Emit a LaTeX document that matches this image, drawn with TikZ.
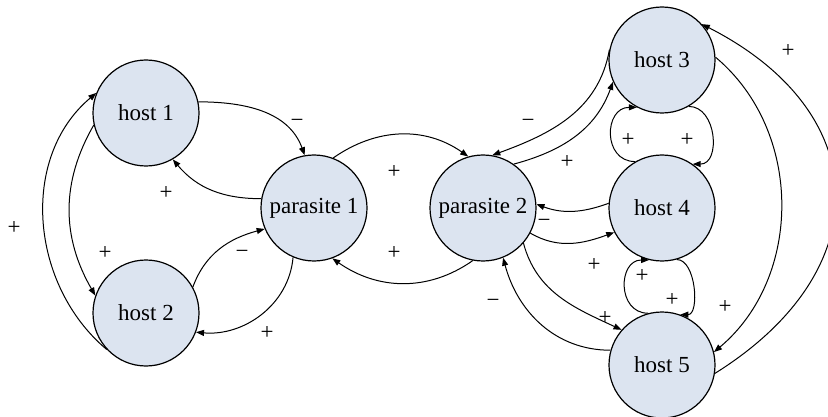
\documentclass[tikz,border=0pt]{standalone}
\usepackage{fontspec}
\setmainfont{Liberation Serif}
\usetikzlibrary{arrows.meta}
\definecolor{nodefill}{RGB}{220,228,240}
\tikzset{
  species/.style={circle,draw=black,line width=1.2pt,fill=nodefill,
    minimum size=106pt,inner sep=0pt,font=\fontsize{23}{27}\selectfont},
  link/.style={line width=1pt,-{Triangle[length=8pt,width=6pt]}},
  sign/.style={font=\fontsize{23}{27}\selectfont,inner sep=0pt}
}
\begin{document}
\begin{tikzpicture}[x=1pt,y=1pt]
\useasboundingbox (0,0) rectangle (828,-417);
\clip (0,0) rectangle (828,-417);
% species
\node[species] (h1) at (146,-113) {host 1};
\node[species] (h2) at (146,-313) {host 2};
\node[species] (p1) at (314,-208) {parasite 1};
\node[species] (p2) at (483,-208) {parasite 2};
\node[species] (h3) at (662,-60) {host 3};
\node[species] (h4) at (662,-208) {host 4};
\node[species] (h5) at (662,-365) {host 5};
% interactions on the left
\draw[link] (h1.12) to[out=0,in=110] (p1.100);
\draw[link] (p1.170) to[out=180,in=-50] (h1.-60);
\draw[link] (h1.193) to[out=240,in=120] (h2.161);
\draw[link] (h2.223) to[out=140,in=220] (h1.158);
\draw[link] (h2.29) to[out=70,in=195] (p1.203);
\draw[link] (p1.247) to[out=265,in=-5] (h2.-21);
% between the parasites
\draw[link] (p1.69) to[out=35,in=145] (p2.106);
\draw[link] (p2.259) to[out=-145,in=-35] (p1.290);
% interactions on the right
\draw[link] (h3.169) to[out=260,in=20] (p2.80);
\draw[link] (p2.55) to[out=15,in=250] (h3.204);
\draw[link] (h4.120) to[out=180,in=180,looseness=1.55] (h3.242);
\draw[link] (h3.-60) to[out=0,in=0,looseness=1.25] (h4.55);
\draw[link] (h4.175) to[out=200,in=-20] (p2.4);
\draw[link] (p2.-28) to[out=-30,in=200] (h4.207);
\draw[link] (p2.-41) to[out=-75,in=155] (h5.139);
\draw[link] (h5.164) to[out=180,in=-75] (p2.-68);
\draw[link] (h5.105) to[out=180,in=180,looseness=1.5] (h4.256);
\draw[link] (h4.-74) to[out=0,in=0,looseness=0.9] (h5.70);
\draw[link] (h3.3) to[out=-40,in=40] (h5.14);
\draw[link] (h5.-9) to[out=32,in=-27,looseness=1.42] (h3.42);
% signs
\node[sign] (s1) at (297,-123) {−};
\node[sign] (s2) at (166,-193) {+};
\node[sign] (s3) at (14,-228) {+};
\node[sign] (s4) at (105,-253) {+};
\node[sign] (s5) at (242,-254) {−};
\node[sign] (s6) at (267,-333) {+};
\node[sign] (s7) at (394,-172) {+};
\node[sign] (s8) at (394,-253) {+};
\node[sign] (s9) at (528,-123) {−};
\node[sign] (s10) at (567,-162) {+};
\node[sign] (s11) at (628,-140) {+};
\node[sign] (s12) at (687,-140) {+};
\node[sign] (s13) at (788,-51) {+};
\node[sign] (s14) at (544,-223) {−};
\node[sign] (s15) at (594,-265) {+};
\node[sign] (s16) at (642,-276) {+};
\node[sign] (s17) at (672,-300) {+};
\node[sign] (s18) at (725,-307) {+};
\node[sign] (s19) at (605,-318) {+};
\node[sign] (s20) at (493,-303) {−};
\end{tikzpicture}
\end{document}
